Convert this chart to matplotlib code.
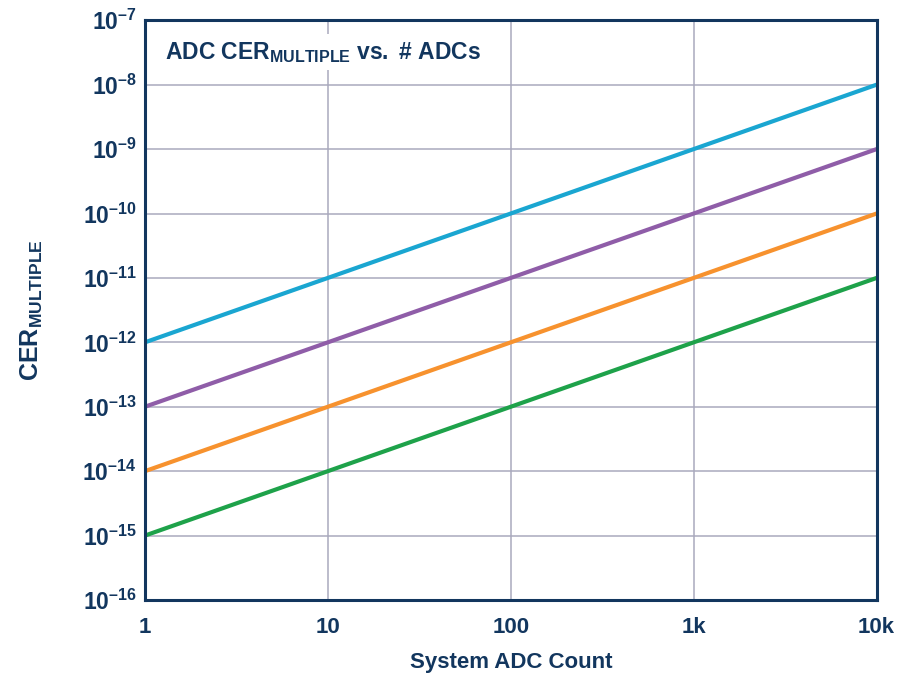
import matplotlib
matplotlib.use("Agg")
import matplotlib.pyplot as plt
from matplotlib.ticker import FixedLocator, FixedFormatter, NullLocator

plt.rcParams['font.family'] = ['Liberation Sans', 'DejaVu Sans']
plt.rcParams['mathtext.fontset'] = 'custom'
plt.rcParams['mathtext.rm'] = 'Liberation Sans'
plt.rcParams['mathtext.bf'] = 'Liberation Sans:bold'
plt.rcParams['mathtext.it'] = 'Liberation Sans:italic'

# Data
adc_count = [1, 10000]
series_names = ["cyan", "purple", "orange", "green"]
cer_cyan = [1e-12, 1e-8]
cer_purple = [1e-13, 1e-9]
cer_orange = [1e-14, 1e-10]
cer_green = [1e-15, 1e-11]
x_ticks = [1, 10, 100, 1000, 10000]
x_tick_labels = ["1", "10", "100", "1k", "10k"]
y_exponents = list(range(-16, -6))

navy = "#12365e"
colors = ["#1aa6d1", "#8f5da8", "#f7922e", "#1ea24a"]

fig = plt.figure(figsize=(9, 6.76), dpi=100)
ax = fig.add_axes([0.161, 0.1124, 0.813, 0.8576])

for ys, c in zip([cer_cyan, cer_purple, cer_orange, cer_green], colors):
    ax.plot(adc_count, ys, color=c, lw=3.0, solid_capstyle='butt', zorder=3)

ax.set_xscale('log')
ax.set_yscale('log')
ax.set_xlim(1, 10000)
ax.set_ylim(1e-16, 1e-7)

ax.xaxis.set_major_locator(FixedLocator(x_ticks))
ax.xaxis.set_major_formatter(FixedFormatter(x_tick_labels))
ax.xaxis.set_minor_locator(NullLocator())
yt = [10.0 ** e for e in y_exponents]
ax.yaxis.set_major_locator(FixedLocator(yt))
dash = '\u2013'
ax.yaxis.set_major_formatter(FixedFormatter(
    ['$\\mathbf{10^{' + dash + str(-e) + '}}$' for e in y_exponents]))
ax.yaxis.set_minor_locator(NullLocator())

ax.grid(True, which='major', color='#a9a9bd', lw=1.1, zorder=1)
ax.tick_params(axis='both', length=0, labelcolor=navy)
ax.tick_params(axis='x', pad=12, labelsize=16)
ax.tick_params(axis='y', pad=6, labelsize=16.5)
for lab in ax.get_xticklabels():
    lab.set_fontweight('bold')

for sp in ax.spines.values():
    sp.set_color(navy)
    sp.set_linewidth(2.2)
    sp.set_zorder(5)

ax.set_xlabel("System ADC Count", fontsize=16, fontweight='bold', color=navy, labelpad=10)
ax.set_ylabel(r'$\mathbf{CER_{MULTIPLE}}$', fontsize=18, color=navy, labelpad=27)

ax.text(0.028, 0.945, r'$\mathbf{ADC\ CER_{MULTIPLE}\ vs.\ \#\ ADCs}$',
        transform=ax.transAxes, fontsize=16.5, color=navy, ha='left', va='center',
        zorder=4, bbox=dict(facecolor='white', edgecolor='none', pad=4))

fig.savefig("out.png", dpi=100)
